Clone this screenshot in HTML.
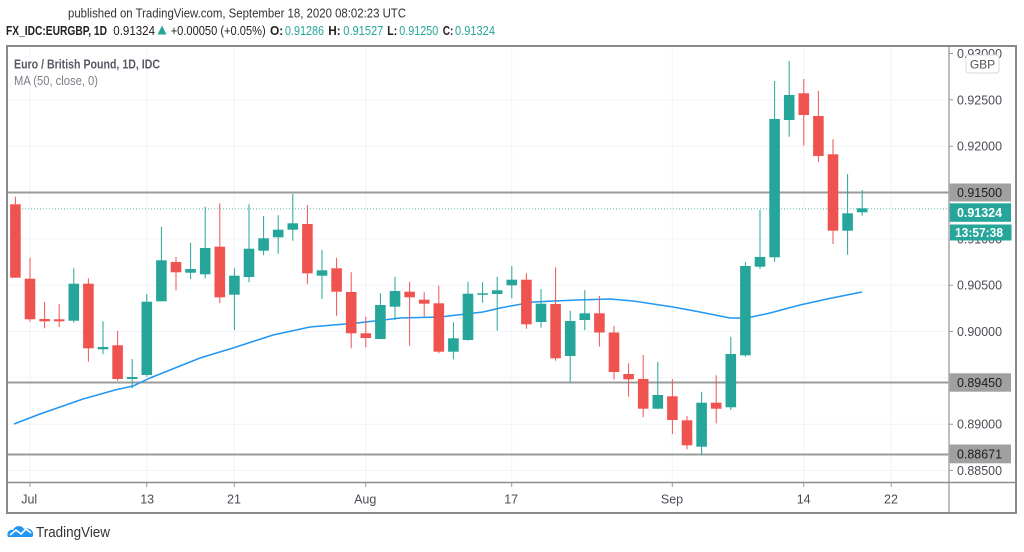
<!DOCTYPE html>
<html><head><meta charset="utf-8"><style>
html,body{margin:0;padding:0;background:#fff;}
svg{display:block;font-family:"Liberation Sans",Arial,sans-serif;}
</style></head><body>
<svg width="1024" height="552" viewBox="0 0 1024 552" xmlns="http://www.w3.org/2000/svg">
<rect width="1024" height="552" fill="#fff"/>
<!-- header -->
<text x="68" y="17.5" font-size="13" fill="#333" textLength="338" lengthAdjust="spacingAndGlyphs">published on TradingView.com, September 18, 2020 08:02:23 UTC</text>
<g font-size="13" fill="#222">
<text x="6" y="35" font-weight="bold" textLength="101" lengthAdjust="spacingAndGlyphs">FX_IDC:EURGBP, 1D</text>
<text x="113.3" y="35" textLength="41.7" lengthAdjust="spacingAndGlyphs">0.91324</text>
<path d="M157.5 34.5 L162 25.5 L166.5 34.5 Z" fill="#26a69a"/>
<text x="170.7" y="35" textLength="95" lengthAdjust="spacingAndGlyphs">+0.00050 (+0.05%)</text>
<text x="270" y="35" font-weight="bold" textLength="13.3" lengthAdjust="spacingAndGlyphs">O:</text>
<text x="285" y="35" fill="#26a69a" textLength="39" lengthAdjust="spacingAndGlyphs">0.91286</text>
<text x="328.3" y="35" font-weight="bold" textLength="12.4" lengthAdjust="spacingAndGlyphs">H:</text>
<text x="343.3" y="35" fill="#26a69a" textLength="40" lengthAdjust="spacingAndGlyphs">0.91527</text>
<text x="387.3" y="35" font-weight="bold" textLength="10" lengthAdjust="spacingAndGlyphs">L:</text>
<text x="399.3" y="35" fill="#26a69a" textLength="39" lengthAdjust="spacingAndGlyphs">0.91250</text>
<text x="442.7" y="35" font-weight="bold" textLength="10.6" lengthAdjust="spacingAndGlyphs">C:</text>
<text x="455" y="35" fill="#26a69a" textLength="40" lengthAdjust="spacingAndGlyphs">0.91324</text>
</g>

<!-- grid -->
<g stroke="#f0f3fa" stroke-width="1">
<path d="M7 99.8H949M7 146.2H949M7 238.8H949M7 285.2H949M7 331.5H949M7 377.8H949M7 424.2H949M7 470.5H949"/>
<path d="M30 47V482M146.7 47V482M234.3 47V482M365.7 47V482M511.7 47V482M672.3 47V482M803.7 47V482M891.3 47V482"/>
</g>

<!-- horizontal levels -->
<g stroke="#9b9b9b" stroke-width="2">
<path d="M7 192.5H949M7 382.5H949M7 454.5H949"/>
</g>
<path d="M7 208.8H949" stroke="#26a69a" stroke-width="1" stroke-dasharray="1,2" opacity="0.75"/>

<!-- MA -->
<polyline fill="none" stroke="#2196f3" stroke-width="1.5" points="14,424 40,414 83,399 115,390 133,386 150,378 200,358 233,348 273,335 310,327 357,323 400,318 440,317 483,312 500,308 533,302 577,300 610,299 633,301 673,307 700,312 730,318 747,318 770,313 800,305 827,299 862,292"/>

<!-- red candles -->
<path fill="none" stroke="#ef5350" stroke-width="1" d="M15.4 196.7V277.7M30 257.7V321.7M44.6 301.7V328.3M59.2 304V327.3M88.4 278.3V361.7M117.6 331V380.7M176 257V290.3M219.8 203.3V303.3M307.4 205V284M336.6 257.7V315.7M351.2 272.3V348.3M365.8 316.7V347.3M409.6 281.7V345.7M424.2 292.3V316.7M438.8 285.7V353.3M526.4 273.3V328.7M555.6 267.3V360.7M599.4 296V346.5M614 326V379.5M628.6 363.3V396.7M643.2 355V417.3M672.4 379.3V434M687 416V449.3M716.2 375.3V423.3M803.8 79V145.7M818.4 91V161.7M833 139.3V244"/>
<g fill="#ef5350">
<rect x="10.1" y="204.3" width="10.6" height="73.4"/>
<rect x="24.7" y="278.7" width="10.6" height="40.6"/>
<rect x="39.3" y="319" width="10.6" height="2.3"/>
<rect x="53.9" y="319.3" width="10.6" height="2"/>
<rect x="83.1" y="283.7" width="10.6" height="64.6"/>
<rect x="112.3" y="345.3" width="10.6" height="33.7"/>
<rect x="170.7" y="262" width="10.6" height="10.3"/>
<rect x="214.5" y="246.7" width="10.6" height="50.6"/>
<rect x="302.1" y="224" width="10.6" height="49.3"/>
<rect x="331.3" y="268.3" width="10.6" height="23.4"/>
<rect x="345.9" y="292" width="10.6" height="41.3"/>
<rect x="360.5" y="333.3" width="10.6" height="4.7"/>
<rect x="404.3" y="291.7" width="10.6" height="5.6"/>
<rect x="418.9" y="299.7" width="10.6" height="4"/>
<rect x="433.5" y="303.3" width="10.6" height="48.4"/>
<rect x="521.1" y="279.7" width="10.6" height="44.6"/>
<rect x="550.3" y="304" width="10.6" height="54.3"/>
<rect x="594.1" y="313.3" width="10.6" height="19.2"/>
<rect x="608.7" y="332.5" width="10.6" height="39.5"/>
<rect x="623.3" y="374" width="10.6" height="5.3"/>
<rect x="637.9" y="379" width="10.6" height="29.7"/>
<rect x="667.1" y="396.3" width="10.6" height="23.7"/>
<rect x="681.7" y="420.3" width="10.6" height="25"/>
<rect x="710.9" y="402.7" width="10.6" height="6"/>
<rect x="798.5" y="93.3" width="10.6" height="21.7"/>
<rect x="813.1" y="116" width="10.6" height="40"/>
<rect x="827.7" y="154.3" width="10.6" height="76.4"/>
</g>

<!-- green candles -->
<path fill="none" stroke="#26a69a" stroke-width="1" d="M73.8 268.3V322.7M103 321.3V354.3M132.2 359V388.3M146.8 294V376.7M161.4 226.7V301.3M190.6 242.7V279.3M205.2 206.7V278.3M234.4 268.3V330M249 204.3V282.3M263.6 216V255.3M278.2 215.3V253.7M292.8 194V240.7M322 250V299M380.4 293.3V339.3M395 276.7V320M453.4 322.3V359.3M468 281.7V340.7M482.6 282.3V302.7M497.2 276.7V330.7M511.8 266V298.3M541 289V327.7M570.2 310.7V381.7M584.8 290V330M657.8 361.7V409.3M701.6 391.7V455M730.8 336.7V410M745.4 261.7V356.7M760 210V269M774.6 81V261.7M789.2 61V136.7M847.6 174V254.7M862.2 190V215.7"/>
<g fill="#26a69a">
<rect x="68.5" y="283.7" width="10.6" height="37"/>
<rect x="97.7" y="347" width="10.6" height="2.3"/>
<rect x="126.9" y="377" width="10.6" height="2"/>
<rect x="141.5" y="301.7" width="10.6" height="73.3"/>
<rect x="156.1" y="260.3" width="10.6" height="41"/>
<rect x="185.3" y="269" width="10.6" height="3.7"/>
<rect x="199.9" y="248" width="10.6" height="26.3"/>
<rect x="229.1" y="275.7" width="10.6" height="19"/>
<rect x="243.7" y="248.7" width="10.6" height="28.3"/>
<rect x="258.3" y="238.3" width="10.6" height="12.4"/>
<rect x="272.9" y="229.7" width="10.6" height="7.6"/>
<rect x="287.5" y="223.3" width="10.6" height="6.4"/>
<rect x="316.7" y="270.3" width="10.6" height="5.4"/>
<rect x="375.1" y="305" width="10.6" height="34"/>
<rect x="389.7" y="291" width="10.6" height="15.7"/>
<rect x="448.1" y="338.3" width="10.6" height="13.4"/>
<rect x="462.7" y="293.7" width="10.6" height="46.3"/>
<rect x="477.3" y="293.3" width="10.6" height="1.5"/>
<rect x="491.9" y="290.3" width="10.6" height="3.7"/>
<rect x="506.5" y="279.7" width="10.6" height="5.6"/>
<rect x="535.7" y="303.7" width="10.6" height="18.3"/>
<rect x="564.9" y="321" width="10.6" height="35"/>
<rect x="579.5" y="313.3" width="10.6" height="6.7"/>
<rect x="652.5" y="395" width="10.6" height="13.7"/>
<rect x="696.3" y="402.7" width="10.6" height="44"/>
<rect x="725.5" y="354" width="10.6" height="53.3"/>
<rect x="740.1" y="266" width="10.6" height="89.3"/>
<rect x="754.7" y="257" width="10.6" height="9.7"/>
<rect x="769.3" y="119" width="10.6" height="138.3"/>
<rect x="783.9" y="95" width="10.6" height="25"/>
<rect x="842.3" y="213.3" width="10.6" height="17.4"/>
<rect x="856.9" y="208.3" width="10.6" height="4"/>
</g>

<!-- legend -->
<text x="14" y="68.3" font-size="13" font-weight="bold" fill="#555a63" textLength="146" lengthAdjust="spacingAndGlyphs">Euro / British Pound, 1D, IDC</text>
<text x="14" y="85" font-size="13" fill="#7b7f88" textLength="84" lengthAdjust="spacingAndGlyphs">MA (50, close, 0)</text>

<!-- price axis labels -->
<g font-size="12.5" fill="#4a4d55">
<text x="957" y="58" textLength="45" lengthAdjust="spacingAndGlyphs">0.93000</text>
<text x="957" y="104.3" textLength="45" lengthAdjust="spacingAndGlyphs">0.92500</text>
<text x="957" y="150.7" textLength="45" lengthAdjust="spacingAndGlyphs">0.92000</text>
<text x="957" y="243.3" textLength="45" lengthAdjust="spacingAndGlyphs">0.91000</text>
<text x="957" y="289.7" textLength="45" lengthAdjust="spacingAndGlyphs">0.90500</text>
<text x="957" y="336" textLength="45" lengthAdjust="spacingAndGlyphs">0.90000</text>
<text x="957" y="428.7" textLength="45" lengthAdjust="spacingAndGlyphs">0.89000</text>
<text x="957" y="475" textLength="45" lengthAdjust="spacingAndGlyphs">0.88500</text>
</g>
<g stroke="#9a9a9a" stroke-width="1">
<path d="M949 53.5H953M949 99.8H953M949 146.2H953M949 238.8H953M949 285.2H953M949 331.5H953M949 424.2H953M949 470.5H953"/>
</g>
<!-- cover above frame top -->
<rect x="949" y="40" width="70" height="6" fill="#fff"/>
<!-- GBP badge -->
<rect x="966" y="55" width="33" height="18" rx="3" fill="#fff" stroke="#d6d8de" stroke-width="1"/>
<text x="982.5" y="68.3" font-size="12" fill="#555" text-anchor="middle">GBP</text>

<!-- highlighted labels -->
<rect x="949" y="183.5" width="62" height="18" fill="#a0a0a0"/>
<text x="957" y="197" font-size="12.5" fill="#1e1e1e" textLength="45" lengthAdjust="spacingAndGlyphs">0.91500</text>
<rect x="949" y="203.3" width="62" height="18.5" fill="#26a69a"/>
<text x="957" y="217" font-size="12.5" font-weight="bold" fill="#fff" textLength="45" lengthAdjust="spacingAndGlyphs">0.91324</text>
<rect x="950" y="224.5" width="61.5" height="16" fill="#26a69a"/>
<text x="955" y="237" font-size="12.5" font-weight="bold" fill="#fff" textLength="48" lengthAdjust="spacingAndGlyphs">13:57:38</text>
<rect x="949" y="373.3" width="62" height="18.4" fill="#a0a0a0"/>
<text x="957" y="387" font-size="12.5" fill="#1e1e1e" textLength="45" lengthAdjust="spacingAndGlyphs">0.89450</text>
<rect x="949" y="444.5" width="62" height="18.8" fill="#a0a0a0"/>
<text x="957" y="458.5" font-size="12.5" fill="#1e1e1e" textLength="45" lengthAdjust="spacingAndGlyphs">0.88671</text>

<!-- time axis -->
<g stroke="#9a9a9a" stroke-width="1">
<path d="M30 482.5V487M146.7 482.5V487M234.3 482.5V487M365.7 482.5V487M511.7 482.5V487M672.3 482.5V487M803.7 482.5V487M891.3 482.5V487"/>
</g>
<g font-size="12.5" fill="#4a4d55" text-anchor="middle">
<text x="29.2" y="503.5">Jul</text>
<text x="147.2" y="503.5">13</text>
<text x="234" y="503.5">21</text>
<text x="365.2" y="503.5">Aug</text>
<text x="511.2" y="503.5">17</text>
<text x="672" y="503.5">Sep</text>
<text x="803.7" y="503.5">14</text>
<text x="891" y="503.5">22</text>
</g>

<!-- frame & separators -->
<path d="M949 46V513" stroke="#a8a8a8" stroke-width="1.5"/>
<path d="M7 482.5H1016" stroke="#8e8e8e" stroke-width="1.5"/>
<rect x="7" y="46" width="1009" height="467" fill="none" stroke="#8a8a8a" stroke-width="2"/>

<!-- TradingView logo -->
<g>
<path d="M8 537 C6 533 9 529 13 530 C15 525 22 525 24 529 C28 527 34 530 33 535 C33 537 32 537 31 537 Z" fill="#2196f3"/>
<polyline points="10,535 16,530 21,534 26,529 31,533" fill="none" stroke="#fff" stroke-width="1.6" stroke-linejoin="round"/>
</g>
<text x="36" y="537" font-size="14.5" fill="#333" textLength="74" lengthAdjust="spacingAndGlyphs">TradingView</text>
</svg>
</body></html>
